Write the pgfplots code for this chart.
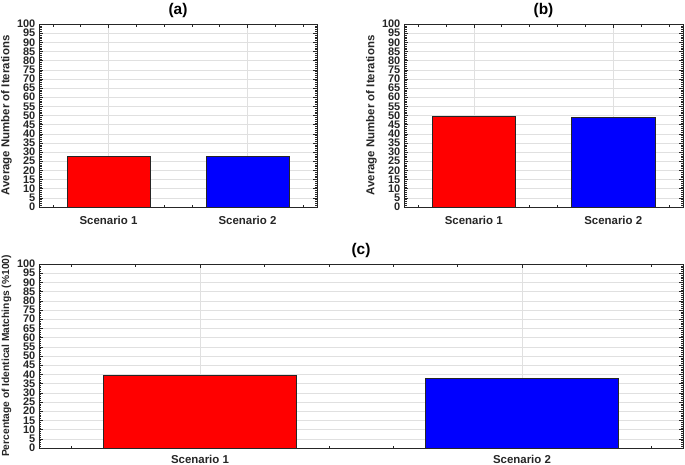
\documentclass[border=0pt]{standalone}
\usepackage{fontspec}
\setmainfont{Liberation Sans}
\usepackage{pgfplots}
\pgfplotsset{compat=1.18}
\definecolor{axgray}{rgb}{0.15,0.15,0.15}
\definecolor{gridgray}{rgb}{0.88,0.88,0.88}
\pgfplotsset{
  mystyle/.style={
    scale only axis,
    anchor=north west,
    xmin=0.5, xmax=2.5, ymin=0, ymax=100,
    xtick={1,2}, xticklabels={Scenario 1,Scenario 2},
    minor xtick={0.6,0.8,1.2,1.4,1.6,1.8,2.2,2.4},
    ytick={0,5,...,100},
    minor ytick={0,1,...,100},
    grid=major,
    major grid style={gridgray, line width=0.5bp},
    axis line style={axgray, line width=0.6bp},
    tick style={axgray, line width=0.5bp},
    major tick length=4bp, minor tick length=2.5bp,
    tick align=inside,
    ticklabel style={font=\bfseries\fontsize{11.5}{11.5}\selectfont, text=axgray},
    yticklabel style={font=\bfseries\fontsize{11}{11}\selectfont, inner sep=0.5bp, text height=7.4bp, text depth=0bp, xshift=-3bp},
    xticklabel style={yshift=-6bp},
    /pgf/number format/assume math mode=true,
    title style={font=\bfseries\fontsize{15.5}{15.5}\selectfont, text=black, yshift=-3bp},
    every axis y label/.style={at={(axis description cs:0,0.5)}, xshift=-32.5bp, rotate=90, anchor=center, font=\bfseries\fontsize{11.5}{11.5}\selectfont, text=axgray},
  }
}
\begin{document}
\begin{tikzpicture}
\path[use as bounding box] (0,0) rectangle (685bp,-465bp);
% (a)
\begin{axis}[mystyle, at={(39bp,-24bp)}, width=278bp, height=183bp,
  title={(a)}, ylabel={Average Number of Iterations}]
\addplot[ybar, bar width=0.6, fill=red, draw=axgray, line width=0.6bp] coordinates {(1,27.8)};
\addplot[ybar, bar width=0.6, fill=blue, draw=axgray, line width=0.6bp] coordinates {(2,27.7)};
\end{axis}
% (b)
\begin{axis}[mystyle, at={(404bp,-24bp)}, width=279bp, height=183bp,
  title={(b)}, ylabel={Average Number of Iterations}]
\addplot[ybar, bar width=0.6, fill=red, draw=axgray, line width=0.6bp] coordinates {(1,49.8)};
\addplot[ybar, bar width=0.6, fill=blue, draw=axgray, line width=0.6bp] coordinates {(2,48.9)};
\end{axis}
% (c)
\begin{axis}[mystyle, at={(39bp,-264bp)}, width=644bp, height=184bp,
  title={(c)}, ylabel={Percentage of Identical Matchings (\%100)},
  xticklabel style={yshift=2bp},
  every axis y label/.append style={font=\bfseries\fontsize{10.3}{10.3}\selectfont}]
\addplot[ybar, bar width=0.6, fill=red, draw=axgray, line width=0.6bp] coordinates {(1,39.3)};
\addplot[ybar, bar width=0.6, fill=blue, draw=axgray, line width=0.6bp] coordinates {(2,37.7)};
\end{axis}
\end{tikzpicture}
\end{document}
